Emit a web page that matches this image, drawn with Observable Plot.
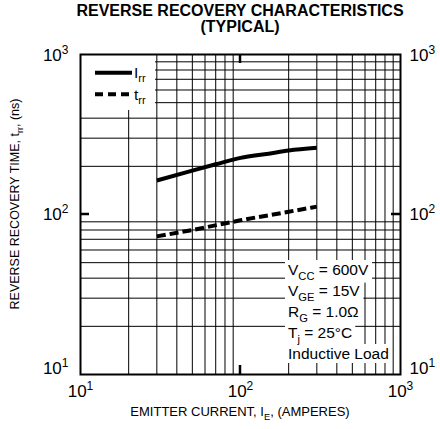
<!DOCTYPE html>
<html><head><meta charset="utf-8">
<script src="https://cdn.jsdelivr.net/npm/d3@7"></script>
<script src="https://cdn.jsdelivr.net/npm/@observablehq/plot@0.6"></script>
<style>
body{margin:0;background:#fff;}
#wrap{width:440px;height:429px;position:relative;font-family:"Liberation Sans",Arial,sans-serif;background:#fff;}
#title{height:37px;padding-top:3px;padding-left:40px;text-align:center;font-weight:bold;font-size:16px;line-height:16px;color:#000;}
#chart svg{display:block;}
</style></head><body>
<div id="wrap"><div id="title">REVERSE RECOVERY CHARACTERISTICS<br>(TYPICAL)</div><div id="chart"></div></div>
<script>
// Irr (solid) and trr (dashed) versus emitter current
const irrCurrent = [30, 50, 70, 100, 150, 200, 300];
const irrValues  = [163, 188, 206, 226, 240, 251, 261];
const trrCurrent = [30, 50, 100, 200, 300];
const trrValues  = [73, 80, 92, 104, 112];
const decadeTicks = [10, 100, 1000];
const gridValues = [20, 30, 40, 50, 60, 70, 80, 90, 200, 300, 400, 500, 600, 700, 800, 900];
const conditions = [
  [["V", null], ["CC", "sub"], [" = 600V", null]],
  [["V", null], ["GE", "sub"], [" = 15V", null]],
  [["R", null], ["G", "sub"], [" = 1.0\u03A9", null]],
  [["T", null], ["j", "sub"], [" = 25\u00B0C", null]],
  [["Inductive Load", null]]
];

const irr = irrCurrent.map((x, i) => ({x, y: irrValues[i]}));
const trr = trrCurrent.map((x, i) => ({x, y: trrValues[i]}));
const FONT = "Liberation Sans, Arial, sans-serif";
const expFmt = d => "10^" + Math.round(Math.log10(d));

const chart = Plot.plot({
  width: 440, height: 389,
  marginTop: 14, marginBottom: 55, marginLeft: 80, marginRight: 40,
  style: {fontFamily: FONT, fontSize: "15px", color: "#000", background: "#fff"},
  x: {type: "log", domain: [10, 1000]},
  y: {type: "log", domain: [10, 1000]},
  marks: [
    Plot.ruleX(gridValues, {stroke: "#000", strokeWidth: 1}),
    Plot.ruleY(gridValues, {stroke: "#000", strokeWidth: 1}),
    Plot.line(irr, {x: "x", y: "y", stroke: "#000", strokeWidth: 4, curve: "monotone-x", strokeLinecap: "butt"}),
    Plot.line(trr, {x: "x", y: "y", stroke: "#000", strokeWidth: 4, strokeDasharray: "9,4", curve: "monotone-x", strokeLinecap: "butt"}),
    Plot.axisX(decadeTicks, {anchor: "bottom", tickSize: 0, tickPadding: 10, tickFormat: expFmt, label: null}),
    Plot.axisY(decadeTicks, {anchor: "left", tickSize: 0, tickPadding: 12, tickFormat: expFmt, label: null}),
    Plot.axisY(decadeTicks, {anchor: "right", tickSize: 0, tickPadding: 9, tickFormat: expFmt, label: null}),
    Plot.frame({stroke: "#000", strokeWidth: 2})
  ]
});
document.getElementById("chart").appendChild(chart);

const svg = d3.select(chart);
const sx = chart.scale("x"), sy = chart.scale("y");
const X0 = sx.apply(10), X1 = sx.apply(1000), Y0 = sy.apply(1000), Y1 = sy.apply(10);

// superscript tick labels
svg.selectAll('g[aria-label$="tick label"]').attr("font-size", 17).style("font-size", "17px");
svg.selectAll('g[aria-label$="tick label"]').each(function() {
  const isY = (this.getAttribute("aria-label") || "").startsWith("y");
  d3.select(this).selectAll("text").each(function() {
    const t = d3.select(this);
    const s = t.text();
    if (!s.startsWith("10^")) return;
    const e = s.slice(3);
    t.text(null).attr("font-size", 17).style("font-size", "17px");
    const base = t.append("tspan").text("10");
    if (isY && e === "1") base.attr("dy", -6);
    if (isY && e === "3") base.attr("dy", 1);
    t.append("tspan").attr("dy", -7).style("font-size", "12px").text(e);
  });
});

function rich(parent, parts, size, attrs) {
  const t = parent.append("text").style("font-size", size + "px").attr("font-family", FONT)
    .attr("fill", "#000").attr("text-anchor", "start");
  for (const k in attrs) t.attr(k, attrs[k]);
  let shift = 0;
  for (const [s, kind] of parts) {
    const target = kind === "sub" ? size * 0.3 : kind === "sup" ? -size * 0.4 : 0;
    const ts = t.append("tspan").text(s);
    if (target - shift !== 0) ts.attr("dy", target - shift);
    if (kind) ts.style("font-size", (size * 0.72) + "px");
    shift = target;
  }
  return t;
}

const extra = svg.insert("g", '[aria-label="frame"]');

// inward decade ticks
const x100 = sx.apply(100), y100 = sy.apply(100);
[[x100, Y1, x100, Y1 - 9], [x100, Y0, x100, Y0 + 9], [X0, y100, X0 + 9, y100], [X1, y100, X1 - 9, y100]].forEach(([a, b, c, d]) =>
  extra.append("line").attr("x1", a).attr("y1", b).attr("x2", c).attr("y2", d).attr("stroke", "#000").attr("stroke-width", 2.5));

// legend
extra.append("rect").attr("x", X0 + 1).attr("y", Y0 + 1).attr("width", 74).attr("height", 55).attr("fill", "#fff");
extra.append("line").attr("x1", X0 + 15).attr("x2", X0 + 52).attr("y1", Y0 + 18.7).attr("y2", Y0 + 18.7)
  .attr("stroke", "#000").attr("stroke-width", 4);
extra.append("line").attr("x1", X0 + 15).attr("x2", X0 + 52).attr("y1", Y0 + 40.3).attr("y2", Y0 + 40.3)
  .attr("stroke", "#000").attr("stroke-width", 4).attr("stroke-dasharray", "8,5");
rich(extra, [["I", null], ["rr", "sub"]], 15.5, {x: X0 + 54, y: Y0 + 23.7});
rich(extra, [["t", null], ["rr", "sub"]], 15.5, {x: X0 + 54, y: Y0 + 45.5});

// conditions annotation on white backgrounds
const bgLayer = extra.append("g");
const txtLayer = extra.append("g");
conditions.forEach((parts, i) => {
  const t = rich(txtLayer, parts, 15.5, {x: X0 + 208, y: Y1 - 99 + i * 21});
  const b = t.node().getBBox();
  bgLayer.append("rect").attr("x", b.x - 3).attr("y", b.y - 1).attr("width", b.width + 6).attr("height", b.height + 2)
    .attr("fill", "#fff");
});

// axis titles
rich(svg, [["EMITTER CURRENT, I", null], ["E", "sub"], [", (AMPERES)", null]], 13,
  {x: (X0 + X1) / 2, y: Y1 + 42, "text-anchor": "middle"});
rich(svg, [["REVERSE RECOVERY TIME, t", null], ["rr", "sub"], [", (ns)", null]], 12.5,
  {transform: `translate(19,${(Y0 + Y1) / 2 - 10}) rotate(-90)`, "text-anchor": "middle"});
</script>
</body></html>
